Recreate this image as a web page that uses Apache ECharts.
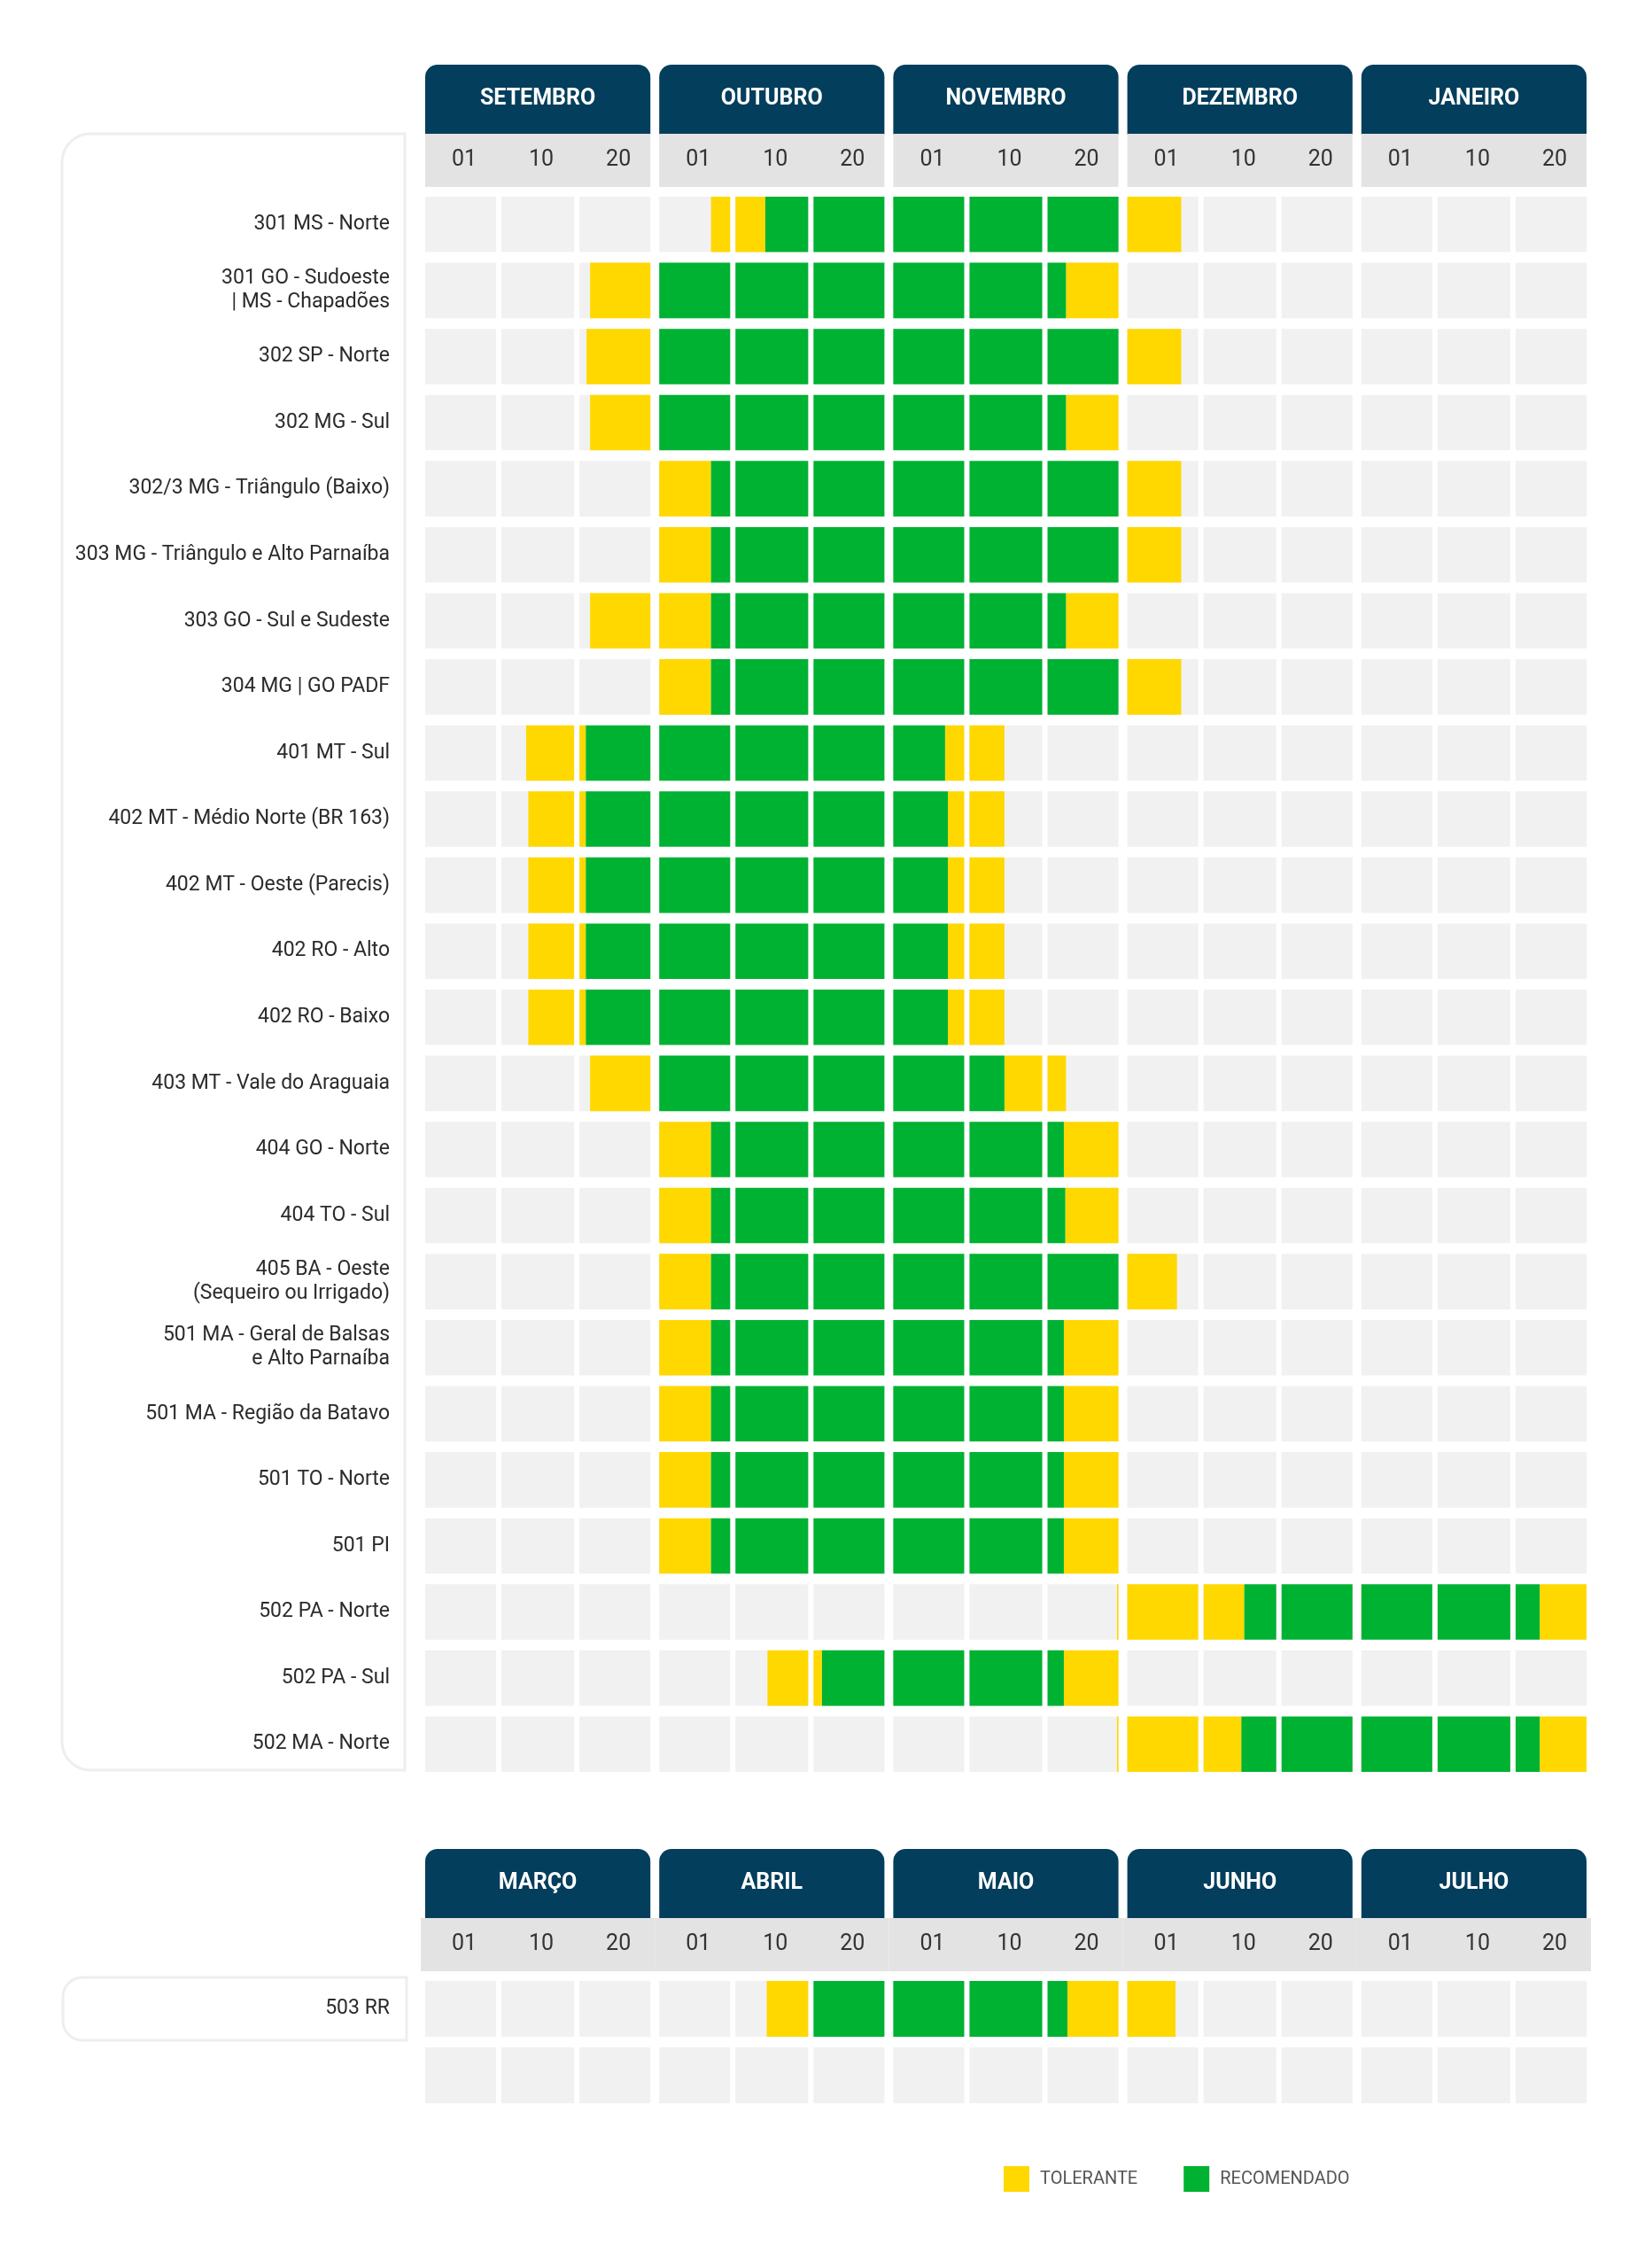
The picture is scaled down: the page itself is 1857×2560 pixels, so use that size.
<!DOCTYPE html>
<html style="height: 100%" lang="pt">
<head>
    <meta charset="utf-8">
    <script type="text/javascript" src="https://cdn.jsdelivr.net/npm/echarts@6/dist/echarts.min.js"></script>
</head>
<body style="height: 100%; margin: 0; background: #fff">
<div id="container" style="width: 1857px; height: 2560px"></div>
<script type="text/javascript">
    // meses e decêndios
    var mesesTopo = ['SETEMBRO', 'OUTUBRO', 'NOVEMBRO', 'DEZEMBRO', 'JANEIRO'];
    var mesesBaixo = ['MARÇO', 'ABRIL', 'MAIO', 'JUNHO', 'JULHO'];
    var dias = ['01', '10', '20'];

    // regiões (linhas)
    var regioesTopo = [
        '301 MS - Norte',
        '301 GO - Sudoeste\n| MS - Chapadões',
        '302 SP - Norte',
        '302 MG - Sul',
        '302/3 MG - Triângulo (Baixo)',
        '303 MG - Triângulo e Alto Parnaíba',
        '303 GO - Sul e Sudeste',
        '304 MG | GO PADF',
        '401 MT - Sul',
        '402 MT - Médio Norte (BR 163)',
        '402 MT - Oeste (Parecis)',
        '402 RO - Alto',
        '402 RO - Baixo',
        '403 MT - Vale do Araguaia',
        '404 GO - Norte',
        '404 TO - Sul',
        '405 BA - Oeste\n(Sequeiro ou Irrigado)',
        '501 MA - Geral de Balsas\ne Alto Parnaíba',
        '501 MA - Região da Batavo',
        '501 TO - Norte',
        '501 PI',
        '502 PA - Norte',
        '502 PA - Sul',
        '502 MA - Norte'
    ];
    var regioesBaixo = ['503 RR', ''];

    // [linha, início, fim] em decêndios (0 = 1º decêndio do primeiro mês)
    var toleranteTopo = [
        [0, 3.73, 4.41], [0, 9, 9.76],
        [1, 2.15, 3], [1, 8.26, 9],
        [2, 2.1, 3], [2, 9, 9.76],
        [3, 2.15, 3], [3, 8.26, 9],
        [4, 3, 3.73], [4, 9, 9.76],
        [5, 3, 3.73], [5, 9, 9.76],
        [6, 2.15, 3.73], [6, 8.26, 9],
        [7, 3, 3.73], [7, 9, 9.76],
        [8, 1.34, 2.09], [8, 6.73, 7.48],
        [9, 1.37, 2.09], [9, 6.77, 7.48],
        [10, 1.37, 2.09], [10, 6.77, 7.48],
        [11, 1.37, 2.09], [11, 6.77, 7.48],
        [12, 1.37, 2.09], [12, 6.77, 7.48],
        [13, 2.15, 3], [13, 7.48, 8.26],
        [14, 3, 3.73], [14, 8.23, 9],
        [15, 3, 3.73], [15, 8.25, 9],
        [16, 3, 3.73], [16, 9, 9.70],
        [17, 3, 3.73], [17, 8.23, 9],
        [18, 3, 3.73], [18, 8.23, 9],
        [19, 3, 3.73], [19, 8.23, 9],
        [20, 3, 3.73], [20, 8.23, 9],
        [21, 8.98, 10.56], [21, 14.34, 15],
        [22, 4.44, 5.12], [22, 8.23, 9],
        [23, 8.98, 10.52], [23, 14.34, 15]
    ];
    var recomendadoTopo = [
        [0, 4.41, 9],
        [1, 3, 8.26],
        [2, 3, 9],
        [3, 3, 8.26],
        [4, 3.73, 9],
        [5, 3.73, 9],
        [6, 3.73, 8.26],
        [7, 3.73, 9],
        [8, 2.09, 6.73],
        [9, 2.09, 6.77],
        [10, 2.09, 6.77],
        [11, 2.09, 6.77],
        [12, 2.09, 6.77],
        [13, 3, 7.48],
        [14, 3.73, 8.23],
        [15, 3.73, 8.25],
        [16, 3.73, 9],
        [17, 3.73, 8.23],
        [18, 3.73, 8.23],
        [19, 3.73, 8.23],
        [20, 3.73, 8.23],
        [21, 10.56, 14.34],
        [22, 5.12, 8.23],
        [23, 10.52, 14.34]
    ];
    var toleranteBaixo = [[0, 4.43, 5], [0, 8.28, 9.68]];
    var recomendadoBaixo = [[0, 5, 8.28]];

    var AMARELO = '#ffd800';
    var VERDE = '#00b232';
    var AZUL = '#033e5c';
    var FONTE = 'Roboto, "Noto Sans", sans-serif';

    var dom = document.getElementById("container");
    var myChart = echarts.init(dom);

    // bordas de um decêndio em pixels (espaço maior entre meses)
    function bordas(api, k) {
        var x0 = api.coord([k, 0])[0] + (k % 3 === 0 ? 5 : 3);
        var x1 = api.coord([k + 1, 0])[0] - ((k + 1) % 3 === 0 ? 5 : 3);
        return [x0, x1];
    }

    function celula(params, api) {
        var k = api.value(0);
        var yc = api.coord([0, api.value(1)])[1];
        var h = api.size([0, 1])[1] * 0.84;
        var b = bordas(api, k);
        return {
            type: 'rect',
            shape: {x: b[0], y: yc - h / 2, width: b[1] - b[0], height: h},
            style: {fill: '#f1f1f1'}
        };
    }

    function segmento(cor) {
        return function (params, api) {
            var s = api.value(1), e = api.value(2);
            var yc = api.coord([0, api.value(0)])[1];
            var h = api.size([0, 1])[1] * 0.84;
            var filhos = [];
            for (var k = Math.floor(s); k < Math.ceil(e); k++) {
                var b = bordas(api, k);
                var a0 = Math.max(s, k), a1 = Math.min(e, k + 1);
                var x0 = b[0] + (a0 - k) * (b[1] - b[0]);
                var x1 = b[0] + (a1 - k) * (b[1] - b[0]);
                filhos.push({
                    type: 'rect',
                    shape: {x: x0, y: yc - h / 2, width: x1 - x0, height: h},
                    style: {fill: cor}
                });
            }
            return {type: 'group', children: filhos};
        };
    }

    function cabecalho(meses, juntarDias) {
        return function (params, api) {
            var i = params.dataIndex;
            var topo = params.coordSys.y;
            var x0 = api.coord([i * 3, 0])[0] + 5;
            var x1 = api.coord([i * 3 + 3, 0])[0] - 5;
            var filhos = [{
                type: 'rect',
                shape: {x: x0, y: topo - 143, width: x1 - x0, height: 79, r: [14, 14, 0, 0]},
                style: {fill: AZUL}
            }, {
                type: 'text',
                style: {
                    x: (x0 + x1) / 2, y: topo - 104, text: meses[i],
                    fill: '#fff', font: 'bold 25px ' + FONTE,
                    align: 'center', verticalAlign: 'middle'
                }
            }, {
                type: 'rect',
                shape: {
                    x: juntarDias ? x0 - 5 : x0, y: topo - 65,
                    width: juntarDias ? x1 - x0 + 10 : x1 - x0, height: 60
                },
                style: {fill: '#e3e3e3'}
            }];
            for (var j = 0; j < 3; j++) {
                var b = bordas(api, i * 3 + j);
                filhos.push({
                    type: 'text',
                    style: {
                        x: (b[0] + b[1]) / 2 + 4, y: topo - 35, text: dias[j],
                        fill: '#333', font: '25px ' + FONTE,
                        align: 'center', verticalAlign: 'middle'
                    }
                });
            }
            return {type: 'group', children: filhos};
        };
    }

    function celulas(regioes) {
        var d = [];
        for (var r = 0; r < regioes.length; r++) {
            for (var k = 0; k < 15; k++) d.push([k, r]);
        }
        return d;
    }

    function series(idx, meses, regioes, tol, rec, juntar) {
        return [{
            type: 'custom', xAxisIndex: idx, yAxisIndex: idx, silent: true,
            renderItem: cabecalho(meses, juntar), clip: false,
            encode: {x: 0, y: 1},
            data: meses.map(function (m, i) { return [i * 3, 0]; })
        }, {
            type: 'custom', xAxisIndex: idx, yAxisIndex: idx, silent: true,
            renderItem: celula, encode: {x: 0, y: 1},
            data: celulas(regioes)
        }, {
            name: 'TOLERANTE', type: 'custom', xAxisIndex: idx, yAxisIndex: idx, silent: true,
            renderItem: segmento(AMARELO), itemStyle: {color: AMARELO},
            encode: {y: 0, x: [1, 2]}, data: tol
        }, {
            name: 'RECOMENDADO', type: 'custom', xAxisIndex: idx, yAxisIndex: idx, silent: true,
            renderItem: segmento(VERDE), itemStyle: {color: VERDE},
            encode: {y: 0, x: [1, 2]}, data: rec
        }];
    }

    function eixoY(idx, regioes) {
        return {
            type: 'category', gridIndex: idx, data: regioes, inverse: true,
            axisLine: {show: false}, axisTick: {show: false}, splitLine: {show: false},
            axisLabel: {
                margin: 35, fontSize: 23, lineHeight: 27, color: '#2b2b2b',
                fontFamily: FONTE, align: 'right'
            }
        };
    }

    var option = {
        animation: false,
        backgroundColor: '#fff',
        grid: [
            {left: 475, top: 216, width: 1321, height: 1790},
            {left: 475, top: 2230, width: 1321, height: 150}
        ],
        xAxis: [
            {type: 'value', gridIndex: 0, min: 0, max: 15, show: false},
            {type: 'value', gridIndex: 1, min: 0, max: 15, show: false}
        ],
        yAxis: [eixoY(0, regioesTopo), eixoY(1, regioesBaixo)],
        graphic: [{
            type: 'rect', z: -1,
            shape: {x: 70, y: 151, width: 387, height: 1847, r: [32, 0, 0, 32]},
            style: {fill: '#fff', stroke: '#eeeeee', lineWidth: 3}
        }, {
            type: 'rect', z: -1,
            shape: {x: 71, y: 2232, width: 388, height: 71, r: [22, 0, 0, 22]},
            style: {fill: '#fff', stroke: '#eeeeee', lineWidth: 3}
        }],
        legend: {
            data: ['TOLERANTE', 'RECOMENDADO'],
            left: 1128, top: 2440,
            icon: 'rect', itemWidth: 29, itemHeight: 29, itemGap: 52,
            selectedMode: false,
            textStyle: {fontSize: 20, color: '#555', fontFamily: FONTE, padding: [0, 0, 0, 7]}
        },
        series: series(0, mesesTopo, regioesTopo, toleranteTopo, recomendadoTopo, false)
            .concat(series(1, mesesBaixo, regioesBaixo, toleranteBaixo, recomendadoBaixo, true))
    };

    myChart.setOption(option);
</script>
</body>
</html>
